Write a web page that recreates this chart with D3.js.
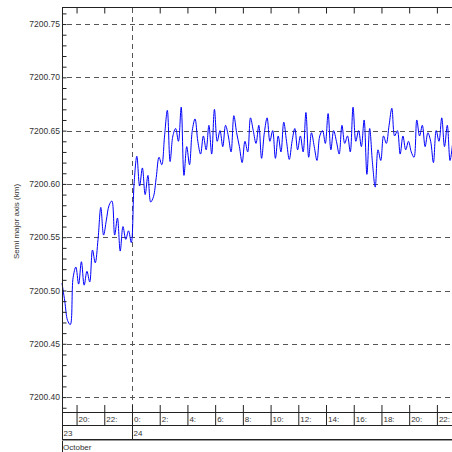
<!DOCTYPE html>
<html><head><meta charset="utf-8">
<script src="https://cdn.jsdelivr.net/npm/d3@7"></script>
<style>
html,body{margin:0;padding:0;background:#fff;}
svg{display:block;font-family:"Liberation Sans",Arial,sans-serif;}
</style></head>
<body>
<script>
// ---- data ----
const startHour = 18.95;     // hours since 23 Oct 00:00
const stepHours = 0.2;       // 12-minute samples
const semiMajorAxis = [
 7200.507,7200.490,7200.472,7200.468,7200.512,7200.522,7200.506,7200.527,7200.505,7200.518,
 7200.508,7200.538,7200.526,7200.548,7200.578,7200.552,7200.566,7200.580,7200.584,7200.552,
 7200.568,7200.537,7200.560,7200.548,7200.556,7200.545,7200.600,7200.626,7200.598,7200.615,
 7200.590,7200.608,7200.583,7200.588,7200.606,7200.625,7200.618,7200.645,7200.669,7200.621,
 7200.645,7200.652,7200.640,7200.672,7200.608,7200.635,7200.618,7200.650,7200.661,7200.640,
 7200.628,7200.645,7200.632,7200.655,7200.628,7200.670,7200.640,7200.650,7200.635,7200.655,
 7200.645,7200.630,7200.664,7200.648,7200.635,7200.620,7200.640,7200.630,7200.662,7200.650,
 7200.638,7200.655,7200.624,7200.648,7200.662,7200.640,7200.650,7200.624,7200.645,7200.630,
 7200.658,7200.640,7200.623,7200.640,7200.652,7200.632,7200.645,7200.630,7200.667,7200.625,
 7200.648,7200.635,7200.622,7200.645,7200.650,7200.638,7200.666,7200.632,7200.650,7200.640,
 7200.628,7200.655,7200.638,7200.645,7200.630,7200.672,7200.640,7200.650,7200.635,7200.660,
 7200.609,7200.652,7200.620,7200.597,7200.632,7200.622,7200.645,7200.638,7200.655,7200.671,
 7200.645,7200.650,7200.628,7200.645,7200.632,7200.640,7200.630,7200.625,7200.660,7200.645,
 7200.655,7200.635,7200.648,7200.640,7200.620,7200.650,7200.640,7200.662,7200.635,7200.655,
 7200.622,7200.640
];
const yMajorTicks = [7200.40,7200.45,7200.50,7200.55,7200.60,7200.65,7200.70,7200.75];
const hourTicks = [20,22,24,26,28,30,32,34,36,38,40,42,44,46];
const hourLabels = ["20:","22:","0:","2:","4:","6:","8:","10:","12:","14:","16:","18:","20:","22:"];
const dayTicks = [24];
const dayLabels = [{h:18.95,t:"23"},{h:24,t:"24"}];
const monthLabel = "October";
const yTitle = "Semi major axis (km)";

// ---- layout ----
const W = 452, H = 452;
const L = 62, R = 452, T = 7, B = 412;
const row1 = 425, row2 = 439;

const x = d3.scaleLinear().domain([18.95, 47.09]).range([L, R]);
const y = d3.scaleLinear().domain([7200.386, 7200.766]).range([B, T]);

const svg = d3.select("body").append("svg").attr("width", W).attr("height", H);
const px = v => Math.round(v) + 0.5;

// grid (dashed)
const grid = svg.append("g").attr("stroke", "#555").attr("stroke-width", 1).attr("stroke-dasharray", "5,4").attr("fill","none");
yMajorTicks.forEach(v => {
  grid.append("line").attr("x1", L + 5).attr("x2", R).attr("y1", px(y(v))).attr("y2", px(y(v)));
});
dayTicks.forEach(h => {
  grid.append("line").attr("x1", px(x(h))).attr("x2", px(x(h))).attr("y1", T + 1).attr("y2", B);
});

// data line
const pts = semiMajorAxis.map((v, i) => [startHour + i * stepHours, v]);
svg.append("path").datum(pts)
  .attr("fill", "none").attr("stroke", "#0000ff").attr("stroke-width", 1)
  .attr("d", d3.line().curve(d3.curveCatmullRom.alpha(0.5)).x(d => x(d[0])).y(d => y(d[1])));

// y axis with minor ticks
const yAxis = d3.axisRight(y)
  .tickValues(d3.range(7200.39, 7200.765, 0.01).map(v => +v.toFixed(2)))
  .tickSize(4).tickFormat("");
const gy = svg.append("g").attr("transform", `translate(${L + 0.5},0)`).call(yAxis);
gy.select(".domain").remove();
gy.selectAll("line").attr("stroke", "#222");
const yl = svg.append("g").attr("font-size", 8.5).attr("fill", "#333").attr("text-anchor", "end");
yMajorTicks.forEach(v => {
  yl.append("text").attr("x", L - 2).attr("y", y(v) + 3).text(v.toFixed(2));
});

// y title
svg.append("text").attr("transform", `translate(19,${(T + B) / 2 + 12}) rotate(-90)`)
  .attr("text-anchor", "middle").attr("font-size", 8).attr("fill", "#333").text(yTitle);

// frame lines
const fr = svg.append("g").attr("stroke", "#222").attr("stroke-width", 1);
fr.append("line").attr("x1", px(L)).attr("x2", px(L)).attr("y1", T).attr("y2", H);
fr.append("line").attr("x1", L).attr("x2", R).attr("y1", px(T)).attr("y2", px(T));
fr.append("line").attr("x1", L).attr("x2", R).attr("y1", px(B)).attr("y2", px(B));
fr.append("line").attr("x1", L).attr("x2", R).attr("y1", px(row1)).attr("y2", px(row1));
fr.append("line").attr("x1", L).attr("x2", R).attr("y1", px(row2)).attr("y2", px(row2));
fr.append("line").attr("x1", L).attr("x2", R).attr("y1", px(row2) + 1).attr("y2", px(row2) + 1).attr("stroke", "#999");

// top ticks
const xTop = d3.axisBottom(x).tickValues(hourTicks.filter(h => !dayTicks.includes(h))).tickSize(6).tickFormat("");
const gt = svg.append("g").attr("transform", `translate(0,${T + 0.5})`).call(xTop);
gt.select(".domain").remove();
gt.selectAll("line").attr("stroke", "#222");

// bottom hour ticks and labels
const xBot = d3.axisBottom(x).tickValues(hourTicks).tickSize(row1 - B + 7).tickFormat("");
const gb = svg.append("g").attr("transform", `translate(0,${B - 7})`).call(xBot);
gb.select(".domain").remove();
gb.selectAll("line").attr("stroke", "#222");
const hl = svg.append("g").attr("font-size", 8).attr("fill", "#333");
hourTicks.forEach((h, i) => {
  hl.append("text").attr("x", x(h) + 2).attr("y", row1 - 3).text(hourLabels[i]);
});

// day separators and labels
dayTicks.forEach(h => {
  fr.append("line").attr("x1", px(x(h))).attr("x2", px(x(h))).attr("y1", B).attr("y2", row2);
});
const dl = svg.append("g").attr("font-size", 8).attr("fill", "#333");
dayLabels.forEach(d => {
  dl.append("text").attr("x", Math.max(x(d.h), L) + 1.5).attr("y", row2 - 3).text(d.t);
});
svg.append("text").attr("x", L + 1).attr("y", 450).attr("font-size", 8).attr("fill", "#333").text(monthLabel);
</script>
</body></html>
